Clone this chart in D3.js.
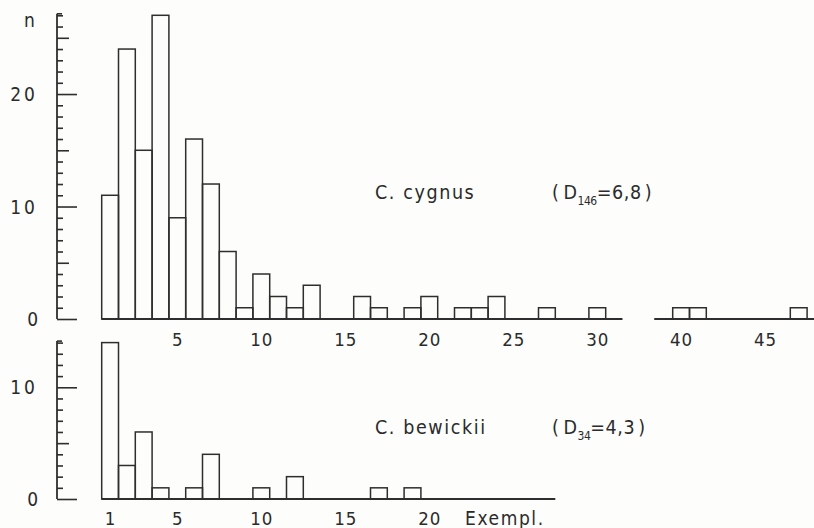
<!DOCTYPE html>
<html>
<head>
<meta charset="utf-8">
<script src="https://cdn.jsdelivr.net/npm/d3@7"></script>
<style>
  body { margin: 0; background: #fdfdfb; }
  svg { display: block; }
  text { font-family: "DejaVu Sans Condensed", "DejaVu Sans", sans-serif; fill: #2b2b2b; }
</style>
</head>
<body>
<svg width="814" height="528"></svg>
<script>
// group size (number of birds per flock) and count of flocks
var cygnusSize  = [1, 2, 3, 4, 5, 6, 7, 8, 9, 10, 11, 12, 13, 16, 17, 19, 20, 22, 23, 24, 27, 30, 40, 41, 47];
var cygnusCount = [11, 24, 15, 27, 9, 16, 12, 6, 1, 4, 2, 1, 3, 2, 1, 1, 2, 1, 1, 2, 1, 1, 1, 1, 1];
var bewickiiSize  = [1, 2, 3, 4, 6, 7, 10, 12, 17, 19];
var bewickiiCount = [14, 3, 6, 1, 1, 4, 1, 2, 1, 1];
var xTicksTop = [5, 10, 15, 20, 25, 30];
var xTicksTopRight = [40, 45];
var xTicksBottom = [1, 5, 10, 15, 20];

var svg = d3.select("svg");
var ink = "#2e2e2e";

// x scales: left part and right part after the axis break
var x = d3.scaleLinear().domain([0.5, 30.5]).range([101.7, 605.7]);
var xr = d3.scaleLinear().domain([39.5, 47.5]).range([672.7, 807.1]);
var bw = x(1) - x(0);

var yTop = d3.scaleLinear().domain([0, 27]).range([319, 15.3]);
var yBot = d3.scaleLinear().domain([0, 14]).range([499, 342.6]);

function yAxis(y, max, labels) {
    var g = svg.append("g").attr("transform", "translate(57,0)");
    var all = d3.range(0, max + 1);
    [[all.filter(d => d % 5 != 0), 6], [all.filter(d => d % 10 == 5), 12], [all.filter(d => d % 10 == 0), 20]]
        .forEach(function (t) {
            var a = g.append("g").call(d3.axisRight(y).tickValues(t[0]).tickSize(t[1]).tickFormat(""));
            a.select(".domain").remove();
            a.selectAll("line").attr("stroke", ink).attr("stroke-width", 1.6);
        });
    g.append("line").attr("x1", 0).attr("x2", 0).attr("y1", y(0)).attr("y2", y(max) - 1.5)
        .attr("stroke", ink).attr("stroke-width", 1.8);
    g.append("line").attr("x1", 0).attr("x2", 5).attr("y1", y(max) - 1.5).attr("y2", y(max) - 1.5)
        .attr("stroke", ink).attr("stroke-width", 1.6);
    labels.forEach(function (v) {
        svg.append("text").attr("x", 38).attr("y", y(v) + 7)
            .attr("text-anchor", "end").attr("font-size", 19)
            .attr("letter-spacing", v >= 10 ? 3 : 0)
            .text(v);
    });
}

function bars(xs, sizes, counts, y) {
    svg.append("g").selectAll("rect")
        .data(sizes.map((s, i) => ({s: s, n: counts[i]})))
        .enter().append("rect")
        .attr("x", d => xs(d.s) - bw / 2)
        .attr("y", d => y(d.n))
        .attr("width", bw)
        .attr("height", d => y(0) - y(d.n))
        .attr("fill", "none")
        .attr("stroke", ink)
        .attr("stroke-width", 1.5);
}

function xAxis(xs, y, from, to, ticks, ty) {
    var a = svg.append("g").attr("transform", "translate(0," + y(0) + ")")
        .call(d3.axisBottom(xs).tickValues(ticks).tickSize(0).tickPadding(0));
    a.select(".domain").remove();
    a.selectAll("text").attr("y", ty).attr("dy", 0).attr("font-size", 18.5)
        .attr("letter-spacing", 1);
    svg.append("line").attr("x1", from).attr("x2", to).attr("y1", y(0)).attr("y2", y(0))
        .attr("stroke", ink).attr("stroke-width", 1.8);
}

// upper panel: C. cygnus
yAxis(yTop, 27, [20, 10, 0]);
svg.append("text").attr("x", 24).attr("y", 27).attr("font-size", 19).text("n");
bars(x, cygnusSize.filter(s => s <= 31), cygnusCount.filter((n, i) => cygnusSize[i] <= 31), yTop);
bars(xr, cygnusSize.filter(s => s > 31), cygnusCount.filter((n, i) => cygnusSize[i] > 31), yTop);
xAxis(x, yTop, x(0.5), x(31.5), xTicksTop, 27);
xAxis(xr, yTop, xr(38.4), 814, xTicksTopRight, 27);

// lower panel: C. bewickii
yAxis(yBot, 14, [10, 0]);
bars(x, bewickiiSize, bewickiiCount, yBot);
xAxis(x, yBot, x(0.5), x(27.5), xTicksBottom, 26);
svg.append("text").attr("x", 465).attr("y", 525).attr("font-size", 19)
    .attr("letter-spacing", 1.6).text("Exempl.");

function label(name, n, d, ty) {
    svg.append("text").attr("x", 375).attr("y", ty).attr("font-size", 19.5)
        .attr("letter-spacing", 1.6).text(name);
    var t = svg.append("text").attr("x", 552).attr("y", ty).attr("font-size", 19.5)
        .attr("letter-spacing", 0.6);
    t.append("tspan").text("(");
    t.append("tspan").attr("dx", 4).text("D");
    t.append("tspan").attr("font-size", 12).attr("dy", 6).attr("letter-spacing", -0.5).text(n);
    t.append("tspan").attr("dy", -6).text("=" + d);
    t.append("tspan").attr("dx", 3).text(")");
}
label("C. cygnus", "146", "6,8", 199);
label("C. bewickii", "34", "4,3", 434);
</script>
</body>
</html>
